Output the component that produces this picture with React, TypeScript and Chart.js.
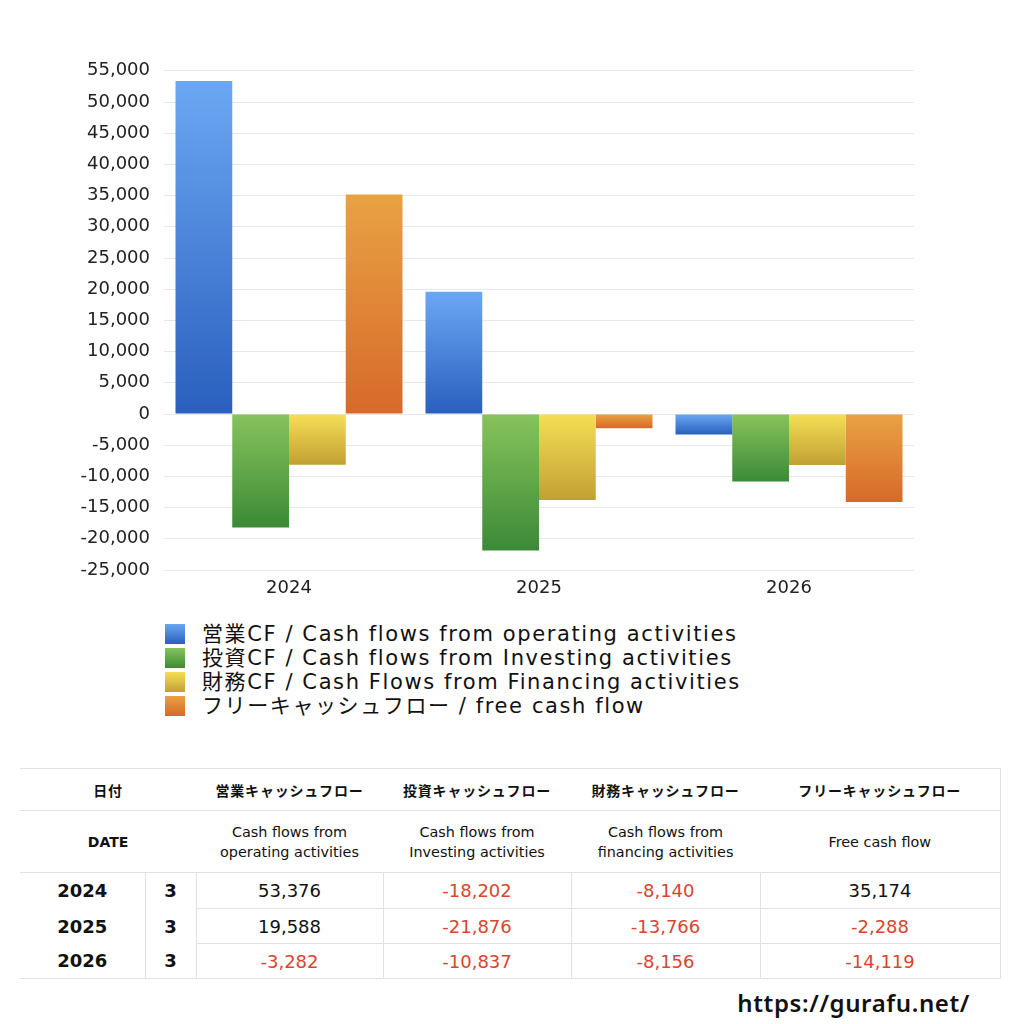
import { useEffect, useRef } from "react";
import { Chart, registerables } from "chart.js";

Chart.register(...registerables);

const categories = ["2024", "2025", "2026"];
const seriesLabels = [
  "営業CF / Cash flows from operating activities",
  "投資CF / Cash flows from Investing activities",
  "財務CF / Cash Flows from Financing activities",
  "フリーキャッシュフロー / free cash flow",
];
const operatingCF = [53376, 19588, -3282];
const investingCF = [-18202, -21876, -10837];
const financingCF = [-8140, -13766, -8156];
const freeCF = [35174, -2288, -14119];

const yTickMin = -25000;
const yTickMax = 55000;
const yTickStep = 5000;

// top / bottom colour of each series' gradient
const gradients: [string, string][] = [
  ["#6ba8f3", "#2a5fbe"],
  ["#88c35b", "#3b8a37"],
  ["#f5df55", "#c2a034"],
  ["#e9a242", "#d7692b"],
];

const tableHead = ["営業キャッシュフロー", "投資キャッシュフロー", "財務キャッシュフロー", "フリーキャッシュフロー"];
const tableSub = [
  ["Cash flows from", "operating activities"],
  ["Cash flows from", "Investing activities"],
  ["Cash flows from", "financing activities"],
  ["Free cash flow"],
];
const months = ["3", "3", "3"];

const FONT = "'DejaVu Sans', 'Noto Sans CJK JP', sans-serif";
const CJK = "'Noto Sans CJK JP', sans-serif";
const fmt = (v: number) => v.toLocaleString("en-US");

function CFChart() {
  const chartRef = useRef<HTMLCanvasElement>(null);
  const chartInstance = useRef<Chart | null>(null);

  useEffect(() => {
    if (!chartRef.current) return;
    if (chartInstance.current) chartInstance.current.destroy();
    const ctx = chartRef.current.getContext("2d");
    if (!ctx) return;

    // vertical gradient spanning each bar, light on top
    const gradientFill = (i: number) => (c: any) => {
      const chart = c.chart;
      const { chartArea, scales } = chart;
      if (!chartArea || c.type !== "data" || !scales.y) return gradients[i][1];
      const y0 = scales.y.getPixelForValue(0);
      const y1 = scales.y.getPixelForValue(c.raw as number);
      const top = Math.min(y0, y1);
      const bot = Math.max(y0, y1, top + 1);
      const g = chart.ctx.createLinearGradient(0, top, 0, bot);
      g.addColorStop(0, gradients[i][0]);
      g.addColorStop(1, gradients[i][1]);
      return g;
    };

    const values = [operatingCF, investingCF, financingCF, freeCF];

    chartInstance.current = new Chart(ctx, {
      type: "bar",
      data: {
        labels: categories,
        datasets: values.map((data, i) => ({
          label: seriesLabels[i],
          data,
          backgroundColor: gradientFill(i),
          borderWidth: 0,
          categoryPercentage: 0.908,
          barPercentage: 1.0,
        })),
      },
      options: {
        responsive: true,
        maintainAspectRatio: false,
        animation: false,
        layout: { padding: { top: 21, right: 0, left: 0, bottom: 0 } },
        plugins: {
          legend: { display: false },
          tooltip: { enabled: false },
        },
        scales: {
          x: {
            grid: { display: false, drawTicks: false },
            border: { display: false },
            ticks: {
              color: "#222",
              font: { family: FONT, size: 18 },
              padding: 8,
            },
            afterFit: (scale: any) => {
              scale.height = 40;
            },
          },
          y: {
            min: yTickMin,
            max: yTickMax,
            grid: { color: "#e8e8e8", drawTicks: false },
            border: { display: false },
            ticks: {
              stepSize: yTickStep,
              color: "#222",
              font: { family: FONT, size: 18 },
              padding: 14,
              callback: (v: any) => fmt(Number(v)),
            },
            afterFit: (scale: any) => {
              scale.width = 104;
            },
          },
        },
      },
    });

    return () => {
      if (chartInstance.current) {
        chartInstance.current.destroy();
        chartInstance.current = null;
      }
    };
  }, []);

  return (
    <div style={{ position: "absolute", left: 60, top: 46, width: 854, height: 564 }}>
      <canvas ref={chartRef}></canvas>
    </div>
  );
}

function Legend() {
  return (
    <div style={{ position: "absolute", left: 165, top: 622, fontFamily: FONT }}>
      {seriesLabels.map((label, i) => (
        <div key={label} style={{ display: "flex", alignItems: "center", height: 24 }}>
          <div
            style={{
              width: 20,
              height: 20,
              background: `linear-gradient(to bottom, ${gradients[i][0]}, ${gradients[i][1]})`,
            }}
          />
          <span
            style={{
              marginLeft: 17,
              fontSize: 21,
              letterSpacing: 1.6,
              color: "#111",
              lineHeight: "24px",
              whiteSpace: "nowrap",
            }}
          >
            {label}
          </span>
        </div>
      ))}
    </div>
  );
}

const LINE = "1px solid #e2e2e2";

function DataTable() {
  const rows = categories.map((c, i) => [operatingCF[i], investingCF[i], financingCF[i], freeCF[i]]);
  const colW = [125, 51, 187, 188, 189, 240];
  const headCell = {
    textAlign: "center" as const,
    fontFamily: CJK,
    fontWeight: 700,
    fontSize: 14,
    letterSpacing: 0.8,
    borderBottom: LINE,
  };
  return (
    <table
      style={{
        position: "absolute",
        left: 20,
        top: 768,
        width: 980,
        borderCollapse: "collapse",
        tableLayout: "fixed",
        fontFamily: FONT,
        color: "#111",
        borderTop: LINE,
        borderRight: LINE,
      }}
    >
      <colgroup>
        {colW.map((w, i) => (
          <col key={i} style={{ width: w }} />
        ))}
      </colgroup>
      <tbody>
        <tr style={{ height: 42 }}>
          <td colSpan={2} style={headCell}>
            日付
          </td>
          {tableHead.map((h) => (
            <td key={h} style={headCell}>
              {h}
            </td>
          ))}
        </tr>
        <tr style={{ height: 62 }}>
          <td colSpan={2} style={{ textAlign: "center", fontWeight: 700, fontSize: 14, borderBottom: LINE }}>
            DATE
          </td>
          {tableSub.map((s, i) => (
            <td key={i} style={{ textAlign: "center", fontSize: 14.4, lineHeight: "20px", borderBottom: LINE }}>
              {s.map((t) => (
                <div key={t}>{t}</div>
              ))}
            </td>
          ))}
        </tr>
        {rows.map((r, i) => {
          const last = i === rows.length - 1;
          return (
            <tr key={categories[i]} style={{ height: i === 0 ? 36 : 35 }}>
              <td
                style={{
                  textAlign: "center",
                  fontWeight: 700,
                  fontSize: 18,
                  borderBottom: last ? LINE : "none",
                }}
              >
                {categories[i]}
              </td>
              <td
                style={{
                  textAlign: "center",
                  fontWeight: 700,
                  fontSize: 18,
                  borderLeft: LINE,
                  borderBottom: last ? LINE : "none",
                }}
              >
                {months[i]}
              </td>
              {r.map((v, j) => (
                <td
                  key={j}
                  style={{
                    textAlign: "center",
                    fontSize: 18,
                    color: v < 0 ? "#d8462f" : "#111",
                    borderLeft: LINE,
                    borderBottom: LINE,
                    padding: 0,
                  }}
                >
                  {fmt(v)}
                </td>
              ))}
            </tr>
          );
        })}
      </tbody>
    </table>
  );
}

export default function App() {
  return (
    <div style={{ position: "absolute", left: 0, top: 0, width: 1024, height: 1024, background: "#fff" }}>
      <CFChart />
      <Legend />
      <DataTable />
      <div
        style={{
          position: "absolute",
          right: 54,
          top: 986,
          fontFamily: "'Noto Sans', sans-serif",
          fontSize: 24,
          fontWeight: 600,
          color: "#111",
          letterSpacing: 0.6,
        }}
      >
        https://gurafu.net/
      </div>
    </div>
  );
}
